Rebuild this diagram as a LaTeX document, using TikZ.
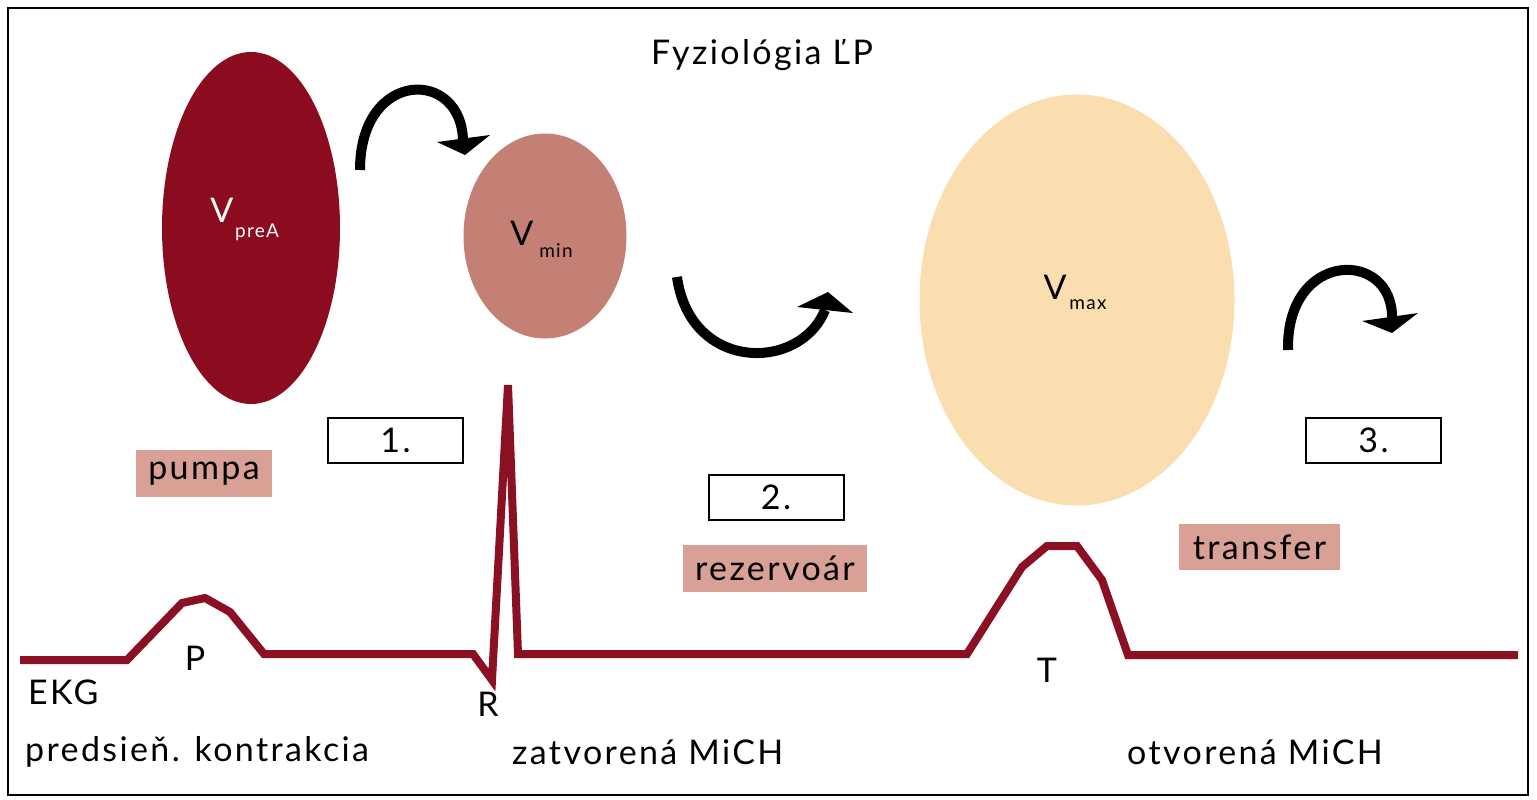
\documentclass[tikz,border=0pt]{standalone}
\usepackage{fontspec}
\setmainfont[LetterSpace=7]{Lato}
\usetikzlibrary{shapes.geometric}
\definecolor{predark}{RGB}{138,12,30}
\definecolor{minrose}{RGB}{196,128,116}
\definecolor{maxpeach}{RGB}{251,222,176}
\definecolor{labpink}{RGB}{217,160,150}
\definecolor{ekgred}{RGB}{139,16,36}
\begin{document}
\begin{tikzpicture}[x=1pt,y=-1pt,
  every node/.style={inner sep=0pt,font=\fontsize{34}{40}\selectfont},
  chamber/.style={ellipse,draw=none,inner sep=0pt},
  numbox/.style={draw=black,line width=2pt,minimum width=135pt,minimum height=45pt},
  phasebox/.style={fill=labpink,minimum height=47pt},
  bigtext/.style={font=\fontsize{34}{40}\selectfont},
  subtext/.style={font=\fontsize{19}{22}\selectfont},
  curvearrow/.style={line width=10pt,black},
  ekg/.style={line width=8pt,ekgred,line join=miter}]
\useasboundingbox (0,0) rectangle (1537,800);
\draw[line width=2pt] (8,8) rectangle (1528,795);

% title
\node[bigtext] (title) at (762,55) {Fyziológia ĽP};

% chambers
\node[chamber,fill=predark,minimum width=178pt,minimum height=352pt] (preA) at (251,228) {};
\node[chamber,fill=minrose,minimum width=163pt,minimum height=205pt] (vmin) at (545,236) {};
\node[chamber,fill=maxpeach,minimum width=315pt,minimum height=411pt] (vmax) at (1077,300) {};

\node[bigtext,text=white] (vpre) at (222,210) {V};
\node[subtext,text=white] (vpres) at (257,232) {preA};
\node[bigtext] (vminv) at (522,233) {V};
\node[subtext] (vmins) at (556,251) {min};
\node[bigtext] (vmaxv) at (1055,287) {V};
\node[subtext] (vmaxs) at (1088,305) {max};

% curved arrows
\coordinate (a1s) at (360,170);
\coordinate (a1e) at (463,142);
\draw[curvearrow] (a1s) .. controls (360,68) and (463,68) .. (a1e);
\fill (437,142) -- (490,135) -- (465,155) -- cycle;

\coordinate (a2s) at (677,277);
\coordinate (a2e) at (825,310);
\draw[curvearrow] (a2s) .. controls (690,372) and (800,372) .. (a2e);
\fill (797,307) -- (828,292) -- (853,313) -- cycle;

\coordinate (a3s) at (1288,350);
\coordinate (a3e) at (1392,319);
\draw[curvearrow] (a3s) .. controls (1286,249) and (1394,249) .. (a3e);
\fill (1362,321) -- (1418,313) -- (1392,333) -- cycle;

% numbered boxes
\node[numbox] (n1) at (395.5,440.5) {1.};
\node[numbox] (n2) at (776,497) {2.};
\node[numbox] (n3) at (1373.5,440.5) {3.};

% phase labels
\node[phasebox,minimum width=136pt] (pumpa) at (204,473.5) {pumpa};
\node[phasebox,minimum width=184pt] (rez) at (775,568.5) {rezervoár};
\node[phasebox,minimum width=161pt,minimum height=46pt] (trans) at (1259.5,547) {transfer};

% ECG
\draw[ekg] (20,660) -- (127,660) -- (182,603) -- (205,598) -- (230,612) -- (264,654)
  -- (473,654) -- (492,680) -- (508,385) -- (518,654) -- (967,654) -- (1022,567)
  -- (1047,546) -- (1077,546) -- (1102,580) -- (1128,655) -- (1518,655);

\node[bigtext] (P) at (195,658) {P};
\node[bigtext] (R) at (488,704) {R};
\node[bigtext] (T) at (1047,670) {T};
\node[bigtext,anchor=west] (ekgl) at (28,692) {EKG};

\node[bigtext,anchor=west] (pk) at (25,752) {predsieň. kontrakcia};
\node[bigtext,anchor=west] (zm) at (512,752) {zatvorená MiCH};
\node[bigtext,anchor=west] (om) at (1127,752) {otvorená MiCH};
\end{tikzpicture}
\end{document}
